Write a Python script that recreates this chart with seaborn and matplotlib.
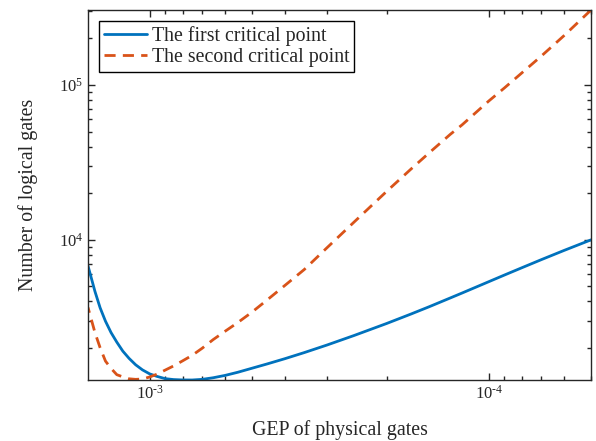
import numpy as np
import pandas as pd
import matplotlib
matplotlib.use("Agg")
import matplotlib.pyplot as plt
import seaborn as sns
from matplotlib.ticker import LogLocator, NullFormatter, FuncFormatter

# -------------------------------
# DATA
# -------------------------------
gep = [1.52e-3, 1.45e-3, 1.4e-3, 1.35e-3, 1.3e-3, 1.25e-3, 1.2e-3, 1.15e-3,
       1.1e-3, 1.05e-3, 1e-3, 9.5e-4, 9e-4, 8.5e-4, 8e-4, 7.5e-4, 7e-4,
       6.5e-4, 6e-4, 5.5e-4, 5e-4, 4.5e-4, 4e-4, 3.5e-4, 3e-4, 2.5e-4,
       2e-4, 1.7e-4, 1.5e-4, 1.3e-4, 1.2e-4, 1e-4, 9e-5, 8e-5, 7e-5,
       6e-5, 5e-5]

first_point = [6776, 4634, 3631, 2975, 2512, 2178, 1905, 1710,
               1555, 1441, 1358, 1307, 1265, 1248, 1241, 1240, 1252,
               1282, 1327, 1391, 1476, 1576, 1701, 1865, 2087, 2402,
               2877, 3304, 3688, 4202, 4522, 5358, 5910, 6585, 7437,
               8528, 9977]

second_point = [3648, 2512, 2004, 1643, 1474, 1342, 1299, 1262,
                1252, 1258, 1297, 1354, 1437, 1529, 1648, 1788, 1990,
                2261, 2557, 2914, 3396, 4089, 5050, 6423, 8879, 12970,
                20560, 28500, 36410, 47920, 55200, 78850, 95640, 119500, 153900,
                208600, 304800]

labels = ["The first critical point", "The second critical point"]

df = pd.DataFrame({"gep": gep, "first": first_point, "second": second_point})

# -------------------------------
# STYLE
# -------------------------------
sns.set_style("ticks")
plt.rcParams["font.family"] = ["Liberation Serif", "DejaVu Serif"]
plt.rcParams["mathtext.fontset"] = "custom"
plt.rcParams["mathtext.rm"] = "Liberation Serif"
plt.rcParams["mathtext.it"] = "Liberation Serif:italic"
axis_col = "#262626"

fig = plt.figure(figsize=(5.96, 4.41), dpi=100)
ax = fig.add_axes([88 / 596, 1 - 380 / 441, 503 / 596, 370 / 441])

sns.lineplot(data=df, x="gep", y="first", ax=ax, color="#0072BD",
             linewidth=2, label=labels[0], estimator=None)
sns.lineplot(data=df, x="gep", y="second", ax=ax, color="#D95319",
             linewidth=2, label=labels[1], estimator=None)
ax.lines[1].set_dashes([4, 2.6])

ax.set_xscale("log")
ax.set_yscale("log")
ax.set_xlim(gep[0], gep[-1])
ax.set_ylim(1240, 3.05e5)


def pow10(v, pos):
    e = int(round(np.log10(v)))
    if e < 0:
        return "$\\mathregular{10^{\\text{-}%d}}$" % (-e)
    return "$\\mathregular{10^{%d}}$" % e


ax.xaxis.set_major_locator(LogLocator(base=10))
ax.xaxis.set_minor_locator(LogLocator(base=10, subs=np.arange(2, 10)))
ax.yaxis.set_major_locator(LogLocator(base=10))
ax.yaxis.set_minor_locator(LogLocator(base=10, subs=np.arange(2, 10)))
ax.xaxis.set_major_formatter(FuncFormatter(pow10))
ax.yaxis.set_major_formatter(FuncFormatter(pow10))
ax.xaxis.set_minor_formatter(NullFormatter())
ax.yaxis.set_minor_formatter(NullFormatter())

ax.tick_params(which="both", direction="in", top=True, right=True,
               color=axis_col, labelcolor=axis_col, labelsize=12, width=1)
ax.tick_params(which="major", length=5)
ax.tick_params(which="minor", length=3)
for s in ax.spines.values():
    s.set_visible(True)
    s.set_color(axis_col)
    s.set_linewidth(1)

ax.set_xlabel("GEP of physical gates", fontsize=14.3, color=axis_col, labelpad=12.5)
ax.set_ylabel("Number of logical gates", fontsize=14.3, color=axis_col, labelpad=15)

leg = ax.legend(loc="upper left", fontsize=14.3, frameon=True, fancybox=False,
                edgecolor="black", framealpha=1, handlelength=2.15,
                handletextpad=0.25, borderpad=0.25, labelspacing=0.1,
                borderaxespad=0.55)
leg.get_frame().set_linewidth(1)

fig.savefig("out.png", dpi=100)
